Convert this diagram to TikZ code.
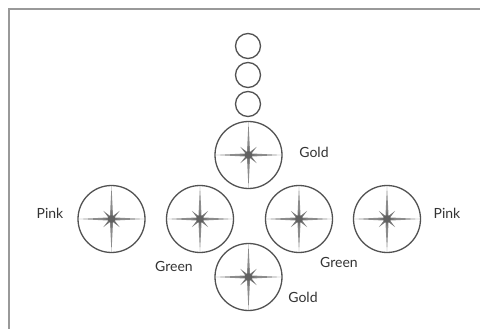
\documentclass[tikz,border=0pt]{standalone}
\usepackage{fontspec}
\setmainfont{Lato}
\begin{document}
\begin{tikzpicture}[x=1pt,y=-1pt,
  big/.style={circle,draw=black!68,line width=1.3pt,minimum size=67pt,inner sep=0pt},
  small/.style={circle,draw=black!68,line width=1.3pt,minimum size=25pt,inner sep=0pt},
  lbl/.style={font=\fontsize{14}{16}\selectfont,text=black!80,inner sep=0pt},
  frame/.style={draw=black!40,line width=1.5pt},
  sparkle/.pic={
    \fill[black!45] (-33,0) -- (0,-1.7) -- (33,0) -- (0,1.7) -- cycle;
    \fill[black!45] (0,-33) -- (-1.7,0) -- (0,33) -- (1.7,0) -- cycle;
    \fill[black!55] (0:10) -- (22.5:3) -- (45:11.5) -- (67.5:3) -- (90:10) -- (112.5:3)
      -- (135:11.5) -- (157.5:3) -- (180:10) -- (202.5:3) -- (225:11.5) -- (247.5:3)
      -- (270:10) -- (292.5:3) -- (315:11.5) -- (337.5:3) -- cycle;
    \fill[black!62] (0,0) circle (3.8);
  }]
\useasboundingbox (0,0) rectangle (480,329);
\fill[white] (0,0) rectangle (480,329);
\coordinate (fbl) at (9,329);
\coordinate (ftl) at (9,9);
\coordinate (ftr) at (480,9);
\draw[frame] (fbl) -- (ftl) -- (ftr);
% small circles
\node[small] (s1) at (248,46) {};
\node[small] (s2) at (248,75) {};
\node[small] (s3) at (248,104) {};
% big circles
\node[big] (goldtop) at (248.5,155) {};
\node[big] (pinkL) at (111.5,219) {};
\node[big] (greenL) at (200,219) {};
\node[big] (greenR) at (299,219) {};
\node[big] (pinkR) at (387,219) {};
\node[big] (goldbot) at (248.5,277) {};
\foreach \n in {goldtop,pinkL,greenL,greenR,pinkR,goldbot}
  \pic at (\n.center) {sparkle};
% labels
\node[lbl] (lgt) at (314,152) {Gold};
\node[lbl] (lpl) at (50,213) {Pink};
\node[lbl] (lpr) at (447,213) {Pink};
\node[lbl] (lgl) at (174,266) {Green};
\node[lbl] (lgr) at (339,262) {Green};
\node[lbl] (lgb) at (303,297) {Gold};
\end{tikzpicture}
\end{document}
